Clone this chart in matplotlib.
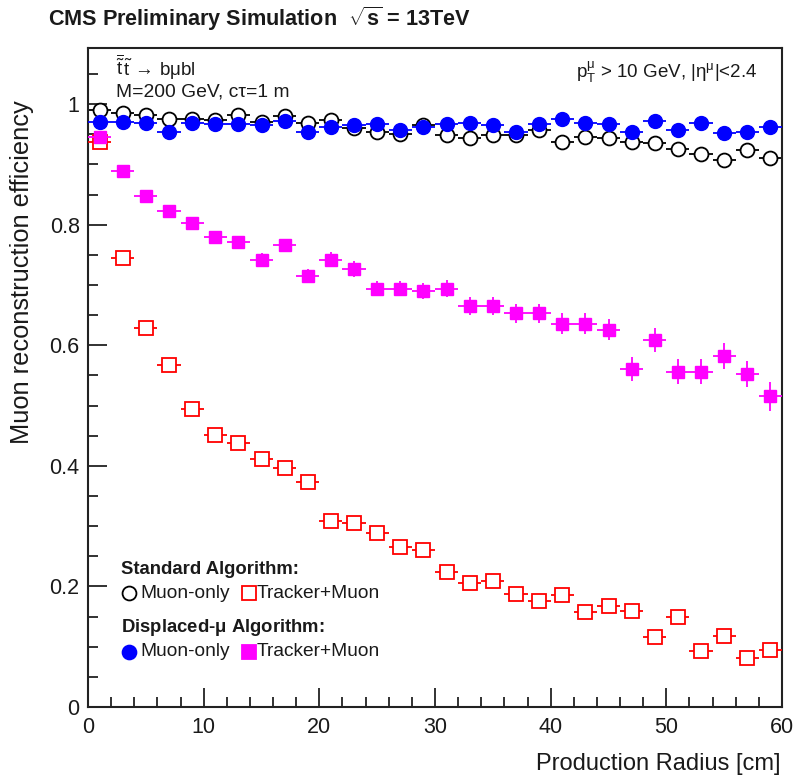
import matplotlib
matplotlib.use("Agg")
import matplotlib.pyplot as plt
import numpy as np

plt.rcParams['font.family'] = ['Liberation Sans', 'DejaVu Sans']
plt.rcParams['mathtext.fontset'] = 'custom'
plt.rcParams['mathtext.rm'] = 'Liberation Sans'
plt.rcParams['mathtext.it'] = 'Liberation Sans:italic'
plt.rcParams['mathtext.bf'] = 'Liberation Sans:bold'
plt.rcParams['mathtext.sf'] = 'Liberation Sans'

# ---- data ----
radius = [1, 3, 5, 7, 9, 11, 13, 15, 17, 19, 21, 23, 25, 27, 29,
          31, 33, 35, 37, 39, 41, 43, 45, 47, 49, 51, 53, 55, 57, 59]
bin_half_width = [1] * 30

std_muon_only = [0.990, 0.985, 0.982, 0.976, 0.976, 0.973, 0.982, 0.971, 0.980, 0.968,
                 0.973, 0.960, 0.954, 0.951, 0.965, 0.949, 0.943, 0.949, 0.949, 0.957,
                 0.937, 0.945, 0.943, 0.937, 0.935, 0.926, 0.918, 0.907, 0.924, 0.910]
std_tracker_muon = [0.937, 0.744, 0.628, 0.567, 0.495, 0.451, 0.438, 0.411, 0.396, 0.373,
                    0.309, 0.306, 0.288, 0.266, 0.260, 0.224, 0.205, 0.209, 0.187, 0.176,
                    0.186, 0.157, 0.167, 0.159, 0.116, 0.149, 0.093, 0.117, 0.082, 0.095]
std_tracker_muon_err = [0.004, 0.008, 0.009, 0.009, 0.009, 0.009, 0.009, 0.009, 0.009, 0.009,
                        0.009, 0.009, 0.009, 0.009, 0.009, 0.009, 0.009, 0.009, 0.009, 0.009,
                        0.010, 0.010, 0.010, 0.010, 0.010, 0.010, 0.010, 0.010, 0.010, 0.010]
disp_muon_only = [0.971, 0.971, 0.969, 0.954, 0.968, 0.967, 0.967, 0.965, 0.972, 0.954,
                  0.962, 0.965, 0.967, 0.957, 0.962, 0.967, 0.969, 0.965, 0.954, 0.967,
                  0.976, 0.969, 0.967, 0.954, 0.972, 0.957, 0.969, 0.952, 0.954, 0.962]
disp_tracker_muon = [0.945, 0.889, 0.847, 0.823, 0.803, 0.780, 0.772, 0.742, 0.766, 0.715,
                     0.742, 0.726, 0.694, 0.694, 0.690, 0.694, 0.665, 0.665, 0.653, 0.653,
                     0.636, 0.636, 0.626, 0.561, 0.609, 0.556, 0.556, 0.582, 0.552, 0.515]
disp_tracker_muon_err = [0.008, 0.008, 0.009, 0.009, 0.010, 0.010, 0.010, 0.011, 0.011, 0.012,
                         0.012, 0.013, 0.013, 0.013, 0.014, 0.014, 0.015, 0.015, 0.016, 0.016,
                         0.017, 0.017, 0.018, 0.020, 0.020, 0.021, 0.021, 0.022, 0.022, 0.024]

x_ticks = [0, 10, 20, 30, 40, 50, 60]
y_ticks = [0, 0.2, 0.4, 0.6, 0.8, 1]
y_tick_labels = ['0', '0.2', '0.4', '0.6', '0.8', '1']

# ---- figure ----
W, H = 794, 778
fig = plt.figure(figsize=(W / 100, H / 100), dpi=100)
L, R, T, B = 88, 782, 48, 707
ax = fig.add_axes([L / W, (H - B) / H, (R - L) / W, (B - T) / H])
TXT = '#1a1a1a'

lw = 1.3
ms = 10
ax.errorbar(radius, std_muon_only, xerr=bin_half_width, fmt='o', color='black',
            mfc='white', mec='black', mew=1.3, ms=ms, elinewidth=lw, capsize=0, zorder=2)
ax.errorbar(radius, std_tracker_muon, xerr=bin_half_width, yerr=std_tracker_muon_err, fmt='s',
            color='#ff0000', mfc='white', mec='#ff0000', mew=1.3, ms=9.5, elinewidth=lw,
            capsize=0, zorder=3)
ax.errorbar(radius, disp_muon_only, xerr=bin_half_width, fmt='o', color='#0000ff',
            mfc='#0000ff', mec='#0000ff', ms=ms, elinewidth=lw, capsize=0, zorder=4)
ax.errorbar(radius, disp_tracker_muon, xerr=bin_half_width, yerr=disp_tracker_muon_err, fmt='s',
            color='#ff00ff', mfc='#ff00ff', mec='#ff00ff', ms=8.5, elinewidth=lw,
            capsize=0, zorder=5)

ax.set_xlim(0, 60)
ax.set_ylim(0, 1.093)
ax.set_xticks(x_ticks)
ax.set_xticks(np.arange(0, 61, 2), minor=True)
ax.set_yticks(y_ticks)
ax.set_yticklabels(y_tick_labels)
ax.set_yticks(np.arange(0, 1.09, 0.05), minor=True)
ax.tick_params(which='both', direction='in', top=False, right=False, labelsize=15.5,
               width=1.3, color='#222222', labelcolor=TXT)
ax.tick_params(which='major', length=14)
ax.tick_params(which='minor', length=7)
ax.tick_params(axis='x', pad=7)
ax.tick_params(axis='y', pad=6)
for s in ax.spines.values():
    s.set_linewidth(1.5)
    s.set_color('#222222')

fig.text(48 / W, 1 - 19 / H, r'CMS Preliminary Simulation  $\mathbf{\sqrt{s}}$ = 13TeV',
         fontsize=15.6, fontweight='bold', ha='left', va='center', color=TXT)
fig.text(22 / W, 1 - 100 / H, 'Muon reconstruction efficiency', rotation=90,
         ha='center', va='top', fontsize=18.3, color=TXT)
fig.text(780 / W, 1 - 764 / H, 'Production Radius [cm]', ha='right', va='center',
         fontsize=17, color=TXT)

def ax_xy(px, py):
    return (px - L) / (R - L), (B - py) / (B - T)

ax.text(*ax_xy(116, 67),
        r'$\overline{\tilde{\mathrm{t}}}\,\tilde{\mathrm{t}}\,\rightarrow\,\mathrm{b\mu bl}$',
        transform=ax.transAxes, ha='left', va='center', fontsize=13.5, color=TXT)
ax.text(*ax_xy(116, 92), 'M=200 GeV, cτ=1 m', transform=ax.transAxes,
        ha='left', va='center', fontsize=13.9, color=TXT)
ax.text(*ax_xy(757, 72),
        r'$\mathrm{p}_{\mathrm{T}}^{\mathrm{\mu}}$ > 10 GeV, |$\mathrm{\eta}^{\mathrm{\mu}}$|<2.4',
        transform=ax.transAxes, ha='right', va='center', fontsize=13.5, color=TXT)

# legend block
ax.text(*ax_xy(121, 570), 'Standard Algorithm:', transform=ax.transAxes, ha='left',
        va='center', fontsize=13.3, fontweight='bold', color=TXT)
ax.text(*ax_xy(121, 628), r'Displaced-$\mathbf{\mu}$ Algorithm:', transform=ax.transAxes,
        ha='left', va='center', fontsize=13.3, fontweight='bold', color=TXT)
legend_rows = [
    (593, 129, 'o', 'white', 'black', 'Muon-only', 249, 's', 'white', '#ff0000', 'Tracker+Muon'),
    (652, 129, 'o', '#0000ff', '#0000ff', 'Muon-only', 249, 's', '#ff00ff', '#ff00ff', 'Tracker+Muon'),
]
for (py, p1, m1, fc1, ec1, t1, p2, m2, fc2, ec2, t2) in legend_rows:
    for (px, m, fc, ec, t, dx) in [(p1, m1, fc1, ec1, t1, 11), (p2, m2, fc2, ec2, t2, 8)]:
        ax.plot(*ax_xy(px, py), marker=m, mfc=fc, mec=ec, mew=1.3, ms=10,
                transform=ax.transAxes, clip_on=False, ls='none')
        ax.text(*ax_xy(px + dx, py), t, transform=ax.transAxes, ha='left', va='center',
                fontsize=13.8, color=TXT)

fig.savefig('out.png', dpi=100)
